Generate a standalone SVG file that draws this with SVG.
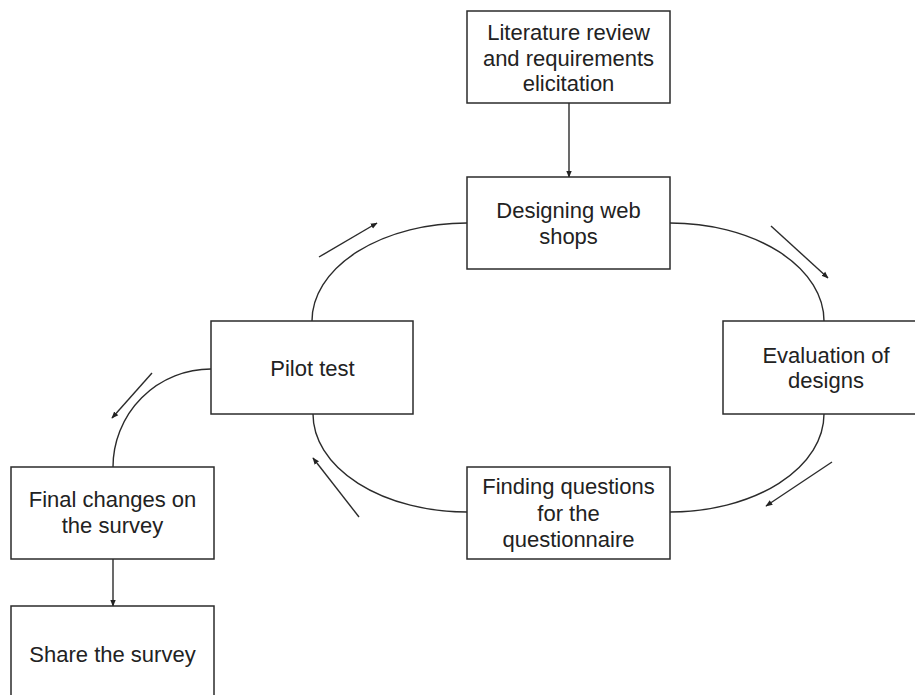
<svg xmlns="http://www.w3.org/2000/svg" width="915" height="695" viewBox="0 0 915 695">
  <style>
    .box { fill: #ffffff; stroke: #2b2b2b; stroke-width: 1.5; }
    .lbl { font-family: "Liberation Sans", Arial, sans-serif; font-size: 22px; fill: #222222; text-anchor: middle; }
    .arc { fill: none; stroke: #2b2b2b; stroke-width: 1.4; }
    .dir { fill: none; stroke: #2b2b2b; stroke-width: 1.4; marker-end: url(#head); }
  </style>
  <defs>
    <marker id="head" viewBox="0 0 10 10" refX="9" refY="5" markerWidth="7" markerHeight="7" markerUnits="userSpaceOnUse" orient="auto">
      <path d="M0,1 L10,5 L0,9 Z" fill="#222222"/>
    </marker>
  </defs>
  <rect width="915" height="695" fill="#ffffff"/>

  <g id="connectors">
    <!-- straight flow arrows -->
    <line class="dir" x1="569" y1="103" x2="569" y2="177"/>
    <line class="dir" x1="113" y1="559" x2="113" y2="606"/>
    <!-- cycle arcs -->
    <path class="arc" d="M467,223 A155,98 0 0 0 312,321"/>
    <path class="arc" d="M670,223 A154,98 0 0 1 824,321"/>
    <path class="arc" d="M824,414 A154,98 0 0 1 670,512"/>
    <path class="arc" d="M467,512 A154,98 0 0 1 313,414"/>
    <path class="arc" d="M211,369 A98,98 0 0 0 113,467"/>
    <!-- direction indicators -->
    <line class="dir" x1="319" y1="257" x2="377" y2="223"/>
    <line class="dir" x1="771" y1="226" x2="828" y2="278"/>
    <line class="dir" x1="832" y1="462" x2="766" y2="506"/>
    <line class="dir" x1="359" y1="517" x2="313" y2="458"/>
    <line class="dir" x1="152" y1="373" x2="112" y2="418"/>
  </g>

  <g id="literature">
    <rect class="box" x="467" y="11" width="203" height="92"/>
    <text class="lbl" x="568.5" y="40">Literature review</text>
    <text class="lbl" x="568.5" y="65.5">and requirements</text>
    <text class="lbl" x="568.5" y="91">elicitation</text>
  </g>

  <g id="designing">
    <rect class="box" x="467" y="177" width="203" height="92"/>
    <text class="lbl" x="568.5" y="218">Designing web</text>
    <text class="lbl" x="568.5" y="244">shops</text>
  </g>

  <g id="pilot">
    <rect class="box" x="211" y="321" width="202" height="93"/>
    <text class="lbl" x="312.5" y="376">Pilot test</text>
  </g>

  <g id="evaluation">
    <rect class="box" x="723" y="321" width="206" height="93"/>
    <text class="lbl" x="826" y="363">Evaluation of</text>
    <text class="lbl" x="826" y="388">designs</text>
  </g>

  <g id="finding">
    <rect class="box" x="467" y="467" width="203" height="92"/>
    <text class="lbl" x="568.5" y="494">Finding questions</text>
    <text class="lbl" x="568.5" y="520.5">for the</text>
    <text class="lbl" x="568.5" y="547">questionnaire</text>
  </g>

  <g id="final">
    <rect class="box" x="11" y="467" width="203" height="92"/>
    <text class="lbl" x="112.5" y="507">Final changes on</text>
    <text class="lbl" x="112.5" y="533">the survey</text>
  </g>

  <g id="share">
    <rect class="box" x="11" y="606" width="203" height="95"/>
    <text class="lbl" x="112.5" y="662">Share the survey</text>
  </g>
</svg>
